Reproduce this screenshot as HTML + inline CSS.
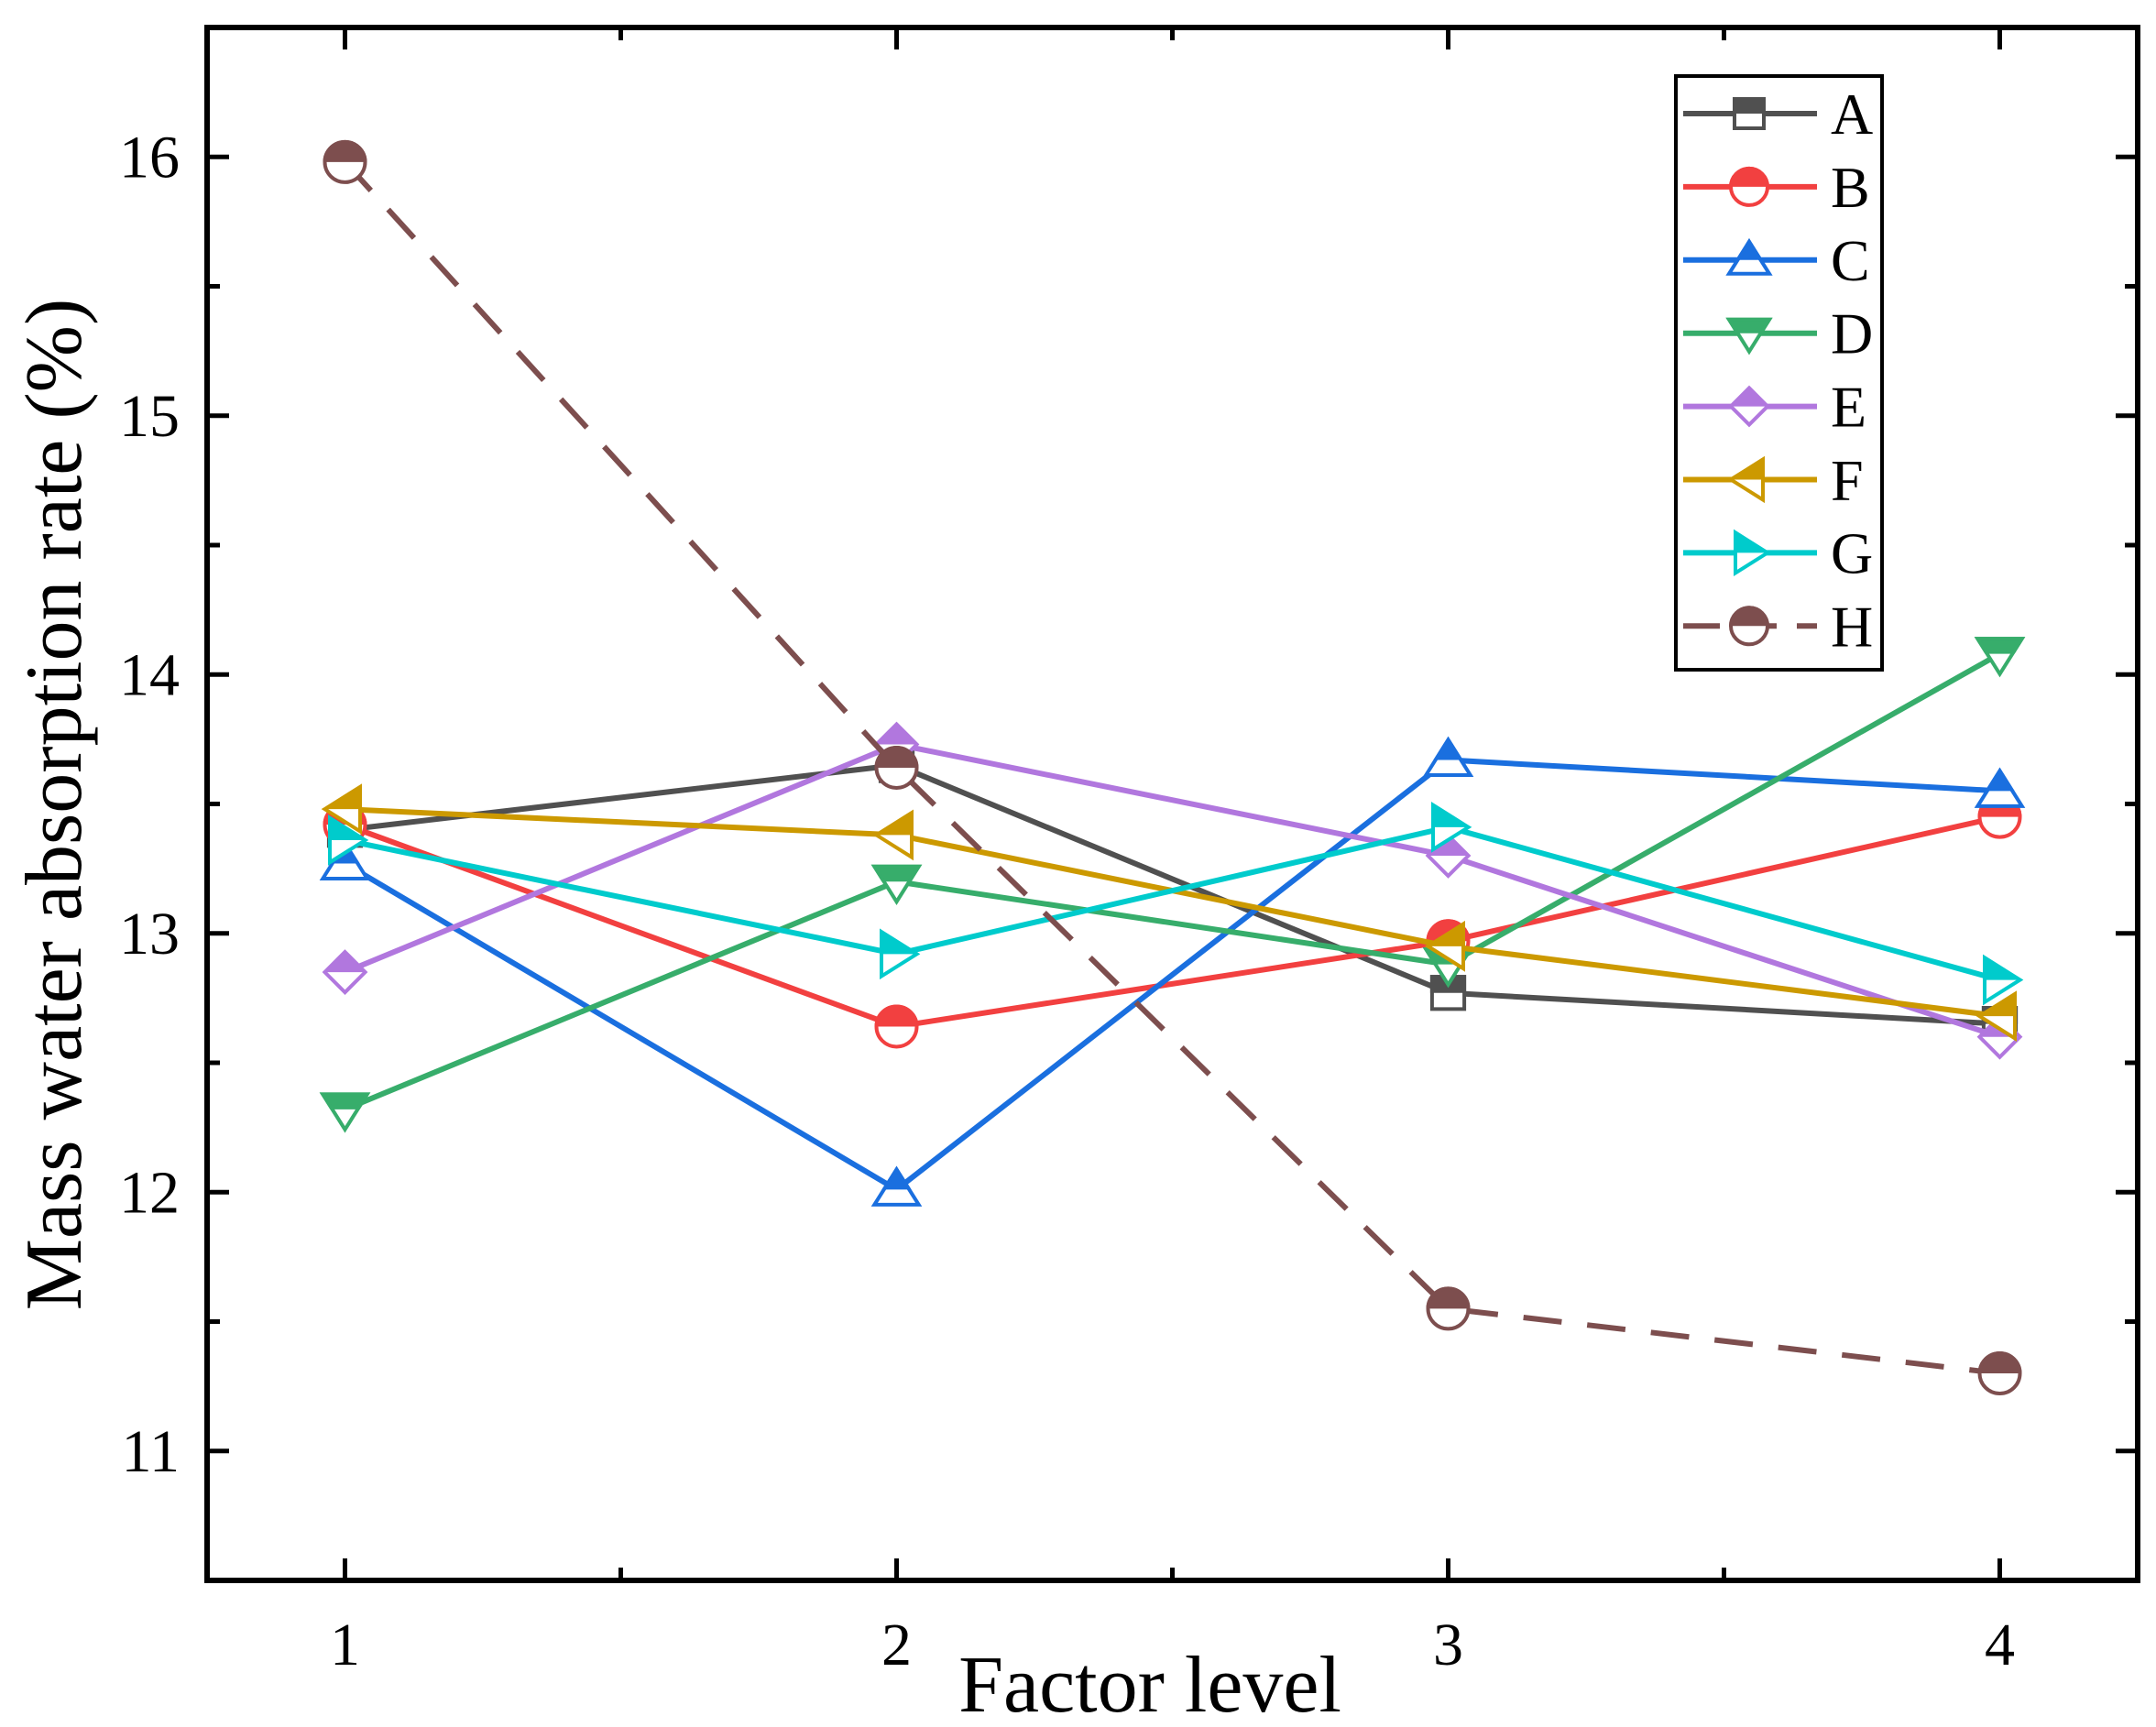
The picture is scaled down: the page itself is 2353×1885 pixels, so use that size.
<!DOCTYPE html>
<html><head><meta charset="utf-8"><style>
html,body{margin:0;padding:0;background:#fff}
svg{display:block}
text{font-family:"Liberation Serif",serif;fill:#000}
</style></head><body>
<svg id="chart" width="2353" height="1885" viewBox="0 0 2353 1885" xmlns="http://www.w3.org/2000/svg">
<g id="grid"></g>
<g id="series"></g>
<g id="axes"></g>
<g id="legend"></g>
</svg>
<script>
const categories = [1, 2, 3, 4];
const seriesNames = ["A","B","C","D","E","F","G","H"];
const valuesA = [13.40, 13.65, 12.77, 12.65];
const valuesB = [13.42, 12.64, 12.97, 13.45];
const valuesC = [13.27, 12.01, 13.67, 13.55];
const valuesD = [12.32, 13.20, 12.88, 14.08];
const valuesE = [12.85, 13.73, 13.30, 12.60];
const valuesF = [13.48, 13.38, 12.95, 12.68];
const valuesG = [13.36, 12.92, 13.41, 12.82];
const valuesH = [15.98, 13.64, 11.55, 11.30];
const yTicks = [11, 12, 13, 14, 15, 16];
const xTicks = [1, 2, 3, 4];

const allValues = [valuesA,valuesB,valuesC,valuesD,valuesE,valuesF,valuesG,valuesH];
const colors = ["#505050","#f24040","#1a6fdf","#37ad6b","#b177de","#cc9900","#00cbcc","#7d4e4e"];
const shapes = ["square","circle","up","down","diamond","left","right","circle"];
const NS = "http://www.w3.org/2000/svg";
const L=226,R=2333,T=30,B=1725;
const xMin=0.75,xMax=4.25,yMin=10.5,yMax=16.5;
const xs = v => L + (v-xMin)/(xMax-xMin)*(R-L);
const ys = v => B - (v-yMin)/(yMax-yMin)*(B-T);
function mk(tag, attrs, parent){const e=document.createElementNS(NS,tag);for(const k in attrs)e.setAttribute(k,attrs[k]);parent.appendChild(e);return e;}

function shapePath(s, x, y, r){
  switch(s){
    case "square": return `M${x-r*0.8},${y-r*0.8}H${x+r*0.8}V${y+r*0.8}H${x-r*0.8}Z`;
    case "up": return `M${x},${y-r}L${x+r*1.1},${y+r*0.75}H${x-r*1.1}Z`;
    case "down": return `M${x},${y+r}L${x+r*1.1},${y-r*0.75}H${x-r*1.1}Z`;
    case "diamond": return `M${x},${y-r}L${x+r},${y}L${x},${y+r}L${x-r},${y}Z`;
    case "left": return `M${x-r},${y}L${x+r*0.75},${y-r*1.1}V${y+r*1.1}Z`;
    case "right": return `M${x+r},${y}L${x-r*0.75},${y-r*1.1}V${y+r*1.1}Z`;
    default: return `M${x-r},${y}A${r},${r} 0 1 1 ${x+r},${y}A${r},${r} 0 1 1 ${x-r},${y}Z`;
  }
}
let clipId=0;
function marker(parent, s, x, y, r, c){
  const g = mk("g",{},parent);
  
  
  const d = shapePath(s,x,y,r);
  mk("path",{d:d,fill:"#fff",stroke:c,"stroke-width":4},g);
  const id="clip"+(clipId++);
  const cp = mk("clipPath",{id:id},g);
  mk("rect",{x:x-r*2,y:y-r*2,width:r*4,height:r*2},cp);
  mk("path",{d:d,fill:c,stroke:c,"stroke-width":4,"clip-path":`url(#${id})`},g);
}

const axes=document.getElementById("axes");
const ser=document.getElementById("series");
allValues.forEach((vals,i)=>{
  const g=mk("g",{},ser);
  
  
  const pts=vals.map((v,j)=>xs(categories[j])+","+ys(v)).join(" ");
  const pl=mk("polyline",{points:pts,fill:"none",stroke:colors[i],"stroke-width":6},g);
  if(i===7) pl.setAttribute("stroke-dasharray","42 28");
  vals.forEach((v,j)=>marker(g,shapes[i],xs(categories[j]),ys(v),22,colors[i]));
});
const fr=mk("rect",{x:L,y:T,width:R-L,height:B-T,fill:"none",stroke:"#000","stroke-width":6},axes);


yTicks.forEach(v=>{
  const y=ys(v);
  mk("line",{x1:L,x2:L+24,y1:y,y2:y,stroke:"#000","stroke-width":5},axes);
  mk("line",{x1:R,x2:R-24,y1:y,y2:y,stroke:"#000","stroke-width":5},axes);
  const t=mk("text",{x:L-30,y:y+22,"text-anchor":"end","font-size":66},axes);
  
  
  t.textContent=v;
});
for(let v=10.5; v<=16.5; v+=1){
  const y=ys(v);
  mk("line",{x1:L,x2:L+14,y1:y,y2:y,stroke:"#000","stroke-width":5},axes);
  mk("line",{x1:R,x2:R-14,y1:y,y2:y,stroke:"#000","stroke-width":5},axes);
}
xTicks.forEach(v=>{
  const x=xs(v);
  mk("line",{x1:x,x2:x,y1:B,y2:B-24,stroke:"#000","stroke-width":5},axes);
  mk("line",{x1:x,x2:x,y1:T,y2:T+24,stroke:"#000","stroke-width":5},axes);
  const t=mk("text",{x:x,y:B+92,"text-anchor":"middle","font-size":66},axes);
  
  
  t.textContent=v;
});
for(let v=1.5; v<4; v+=1){
  const x=xs(v);
  mk("line",{x1:x,x2:x,y1:B,y2:B-14,stroke:"#000","stroke-width":5},axes);
  mk("line",{x1:x,x2:x,y1:T,y2:T+14,stroke:"#000","stroke-width":5},axes);
}
const xt=mk("text",{x:1255,y:1868,"text-anchor":"middle","font-size":88},axes);


xt.textContent="Factor level";
const yt=mk("text",{x:0,y:0,"text-anchor":"middle","font-size":88,transform:`translate(88,878) rotate(-90)`},axes);


yt.textContent="Mass water absorption rate (%)";
const lg=document.getElementById("legend");


mk("rect",{x:1829,y:83,width:225,height:648,fill:"#fff",stroke:"#000","stroke-width":4},lg);
seriesNames.forEach((n,i)=>{
  const y=124+i*79.9;
  const g=mk("g",{},lg);
  
  
  const ln=mk("line",{x1:1837,x2:1983,y1:y,y2:y,stroke:colors[i],"stroke-width":6},g);
  if(i===7) ln.setAttribute("stroke-dasharray","40 22");
  marker(g,shapes[i],1909,y,20,colors[i]);
  const t=mk("text",{x:1998,y:y+22,"font-size":64},g);
  t.textContent=n;
});
</script>
</body></html>
